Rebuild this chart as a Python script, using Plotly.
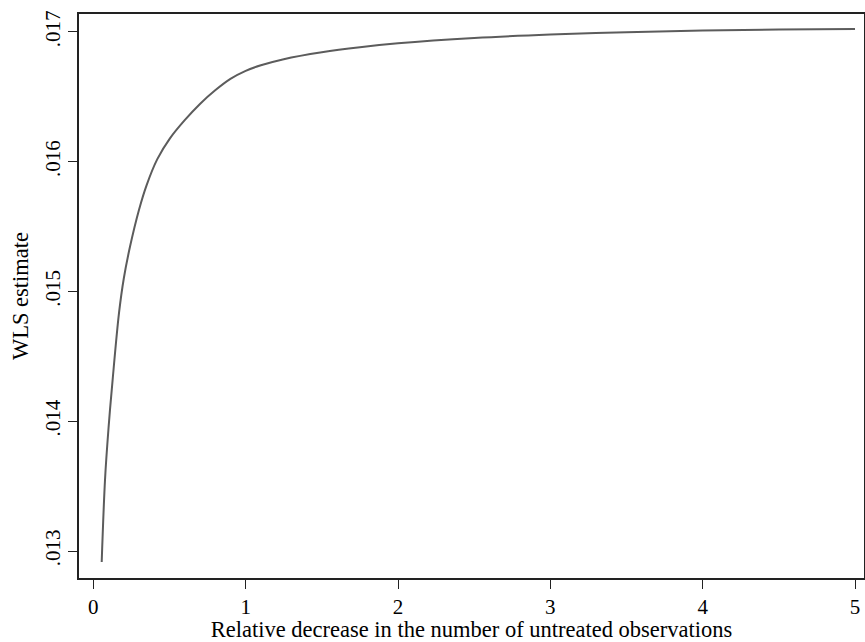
import plotly.graph_objects as go

# Relative decrease in the number of untreated observations
x_vals = [0.055, 0.077, 0.10, 0.127, 0.169, 0.20, 0.241, 0.30, 0.35, 0.42, 0.503,
          0.60, 0.70, 0.80, 0.90, 1.0, 1.1, 1.25, 1.5, 1.75, 2.0, 2.5, 3.0, 3.5,
          4.0, 4.5, 5.0]
# WLS estimate
y_vals = [0.012915, 0.013554, 0.01395, 0.014323, 0.014838, 0.01510, 0.015346, 0.01563,
          0.01582, 0.01602, 0.01618, 0.01632, 0.016445, 0.01655, 0.016638, 0.0167,
          0.016743, 0.01679, 0.016843, 0.016882, 0.016912, 0.016953, 0.01698, 0.016998,
          0.01701, 0.017018, 0.017023]

x_ticks = [0, 1, 2, 3, 4, 5]
x_ticklabels = ["0", "1", "2", "3", "4", "5"]
y_ticks = [0.013, 0.014, 0.015, 0.016, 0.017]
y_ticklabels = [".013", ".014", ".015", ".016", ".017"]

fig = go.Figure()
fig.add_trace(go.Scatter(
    x=x_vals, y=y_vals, mode="lines",
    line=dict(color="#5c5c5c", width=2, shape="spline", smoothing=1.0),
    showlegend=False,
))

family = "Liberation Serif, Times New Roman, serif"
tickfont = dict(family=family, size=21, color="black")
titlefont = dict(family=family, size=22.5, color="black")

fig.update_layout(
    width=865, height=642,
    margin=dict(l=79, r=1, t=14, b=64),
    paper_bgcolor="white", plot_bgcolor="white",
    font=dict(family=family, size=22, color="black"),
    xaxis=dict(
        range=[-0.094, 5.059], tickvals=x_ticks, ticktext=x_ticklabels,
        tickfont=tickfont, automargin=False,
        ticks="outside", ticklen=9, tickwidth=1.2, tickcolor="#222",
        showline=True, linecolor="#222", linewidth=1.5, mirror=True,
        showgrid=False, zeroline=False,
        title=dict(text="Relative decrease in the number of untreated observations",
                   font=titlefont, standoff=2),
    ),
    yaxis=dict(
        range=[0.012792, 0.017138], tickvals=y_ticks, ticktext=y_ticklabels,
        tickangle=-90, tickfont=tickfont, automargin=False,
        ticks="outside", ticklen=9, tickwidth=1.2, tickcolor="#222",
        showline=True, linecolor="#222", linewidth=1.5, mirror=True,
        showgrid=False, zeroline=False,
        title=dict(text="WLS estimate", font=titlefont, standoff=6),
    ),
)

fig.write_html("out.html",
               config={"displayModeBar": False},
               post_script="document.body.style.margin='0';document.body.style.overflow='hidden';")
